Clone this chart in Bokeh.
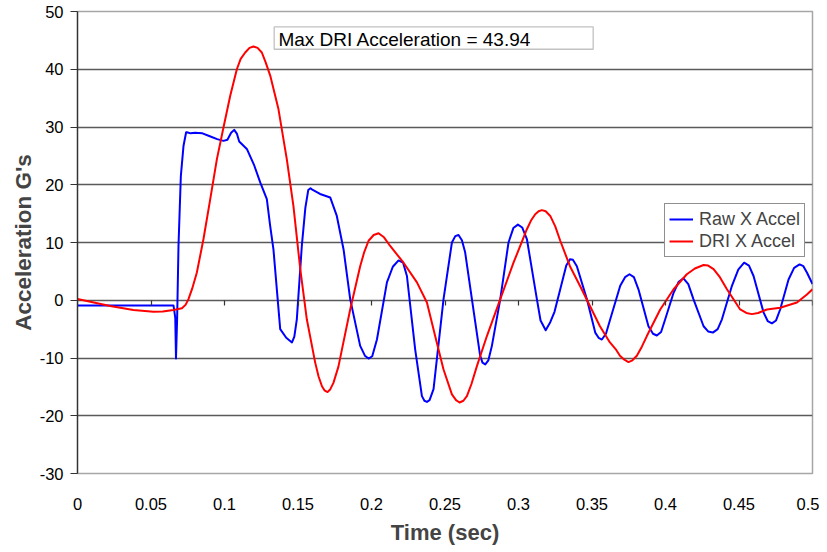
from bokeh.plotting import figure
from bokeh.models import (FixedTicker, NumeralTickFormatter, LinearAxis, Legend,
                          LegendItem, BoxAnnotation, Label)
from bokeh.embed import file_html
from bokeh.resources import INLINE

# ---- data ----
raw_t = [0.0, 0.0653, 0.0665, 0.067, 0.0678, 0.0687, 0.0703, 0.0721, 0.0739, 0.0744,
         0.077, 0.080, 0.085, 0.090, 0.095, 0.0993, 0.102, 0.1045, 0.1066, 0.1085,
         0.110, 0.1152, 0.120, 0.1243, 0.1288, 0.131, 0.1333, 0.1379, 0.142, 0.1459,
         0.1475, 0.1492, 0.1526, 0.155, 0.157, 0.1585, 0.1594, 0.165, 0.1719, 0.1764,
         0.181, 0.1855, 0.1923, 0.1955, 0.198, 0.2005, 0.2037, 0.2105, 0.2145, 0.2184,
         0.2215, 0.2241, 0.2297, 0.2343, 0.236, 0.2377, 0.2395, 0.2422, 0.249, 0.2547,
         0.257, 0.2592, 0.2615, 0.2637, 0.2683, 0.2739, 0.2755, 0.2774, 0.2795, 0.2819,
         0.2876, 0.2932, 0.2965, 0.2996, 0.3025, 0.3057, 0.3125, 0.315, 0.3185, 0.3216,
         0.3245, 0.3284, 0.3325, 0.335, 0.337, 0.3397, 0.3465, 0.3522, 0.3545, 0.3567,
         0.3595, 0.3624, 0.3692, 0.3725, 0.3755, 0.3785, 0.3816, 0.3884, 0.3915, 0.3941,
         0.397, 0.3998, 0.4055, 0.409, 0.4122, 0.4155, 0.419, 0.4259, 0.429, 0.4322,
         0.4355, 0.4384, 0.4452, 0.4495, 0.4535, 0.4568, 0.4599, 0.4667, 0.4695, 0.4724,
         0.4752, 0.478, 0.4837, 0.4875, 0.4912, 0.4938, 0.4962, 0.5]
raw_g = [-0.9, -0.9, -3.0, -10.1, -3.0, 9.4, 21.5, 26.7, 29.1, 29.1,
         28.9, 29.0, 28.9, 28.4, 27.9, 27.6, 27.8, 29.0, 29.5, 28.8,
         27.5, 26.2, 23.5, 20.4, 17.5, 13.0, 8.8, -5.0, -6.5, -7.3,
         -6.3, -3.3, 9.4, 16.0, 19.1, 19.4, 19.2, 18.4, 17.8, 14.6,
         8.8, 0.2, -7.9, -9.6, -10.1, -9.7, -6.8, 3.1, 5.8, 6.9,
         6.5, 4.2, -8.5, -16.6, -17.4, -17.6, -17.3, -15.4, 0.2, 10.0,
         11.1, 11.3, 10.4, 8.3, 0.2, -9.6, -10.8, -11.1, -10.4, -7.9,
         0.2, 10.0, 12.5, 13.1, 12.6, 10.6, 0.2, -3.5, -5.2, -3.8,
         -2.0, 1.9, 6.0, 7.1, 7.0, 5.9, 0.2, -5.6, -6.5, -6.8,
         -5.8, -3.3, 2.5, 4.0, 4.5, 4.0, 1.9, -4.5, -5.8, -6.1,
         -5.5, -3.3, 1.3, 3.2, 3.8, 2.8, 0.2, -4.5, -5.4, -5.6,
         -5.0, -3.3, 2.5, 5.3, 6.5, 6.0, 4.2, -2.1, -3.6, -4.0,
         -3.5, -1.6, 3.6, 5.6, 6.2, 5.9, 4.8, 2.8]

dri_t = [0.0, 0.0222, 0.038, 0.0517, 0.058, 0.0653, 0.071, 0.0735, 0.0755, 0.078,
         0.0812, 0.0857, 0.0903, 0.0948, 0.0993, 0.1039, 0.1084, 0.111, 0.1141, 0.117,
         0.1197, 0.1225, 0.1254, 0.128, 0.1311, 0.1367, 0.1424, 0.1469, 0.1515, 0.156,
         0.1617, 0.164, 0.1663, 0.168, 0.1701, 0.172, 0.1741, 0.1775, 0.1799, 0.1855,
         0.1923, 0.195, 0.198, 0.2015, 0.2048, 0.2085, 0.2127, 0.2218, 0.2309, 0.2377,
         0.2433, 0.249, 0.2547, 0.2575, 0.2599, 0.2625, 0.2649, 0.268, 0.2717, 0.2785,
         0.2876, 0.2966, 0.3057, 0.3085, 0.3114, 0.3137, 0.3159, 0.3185, 0.3216, 0.325,
         0.3284, 0.335, 0.3418, 0.3486, 0.3554, 0.3622, 0.3665, 0.369, 0.372, 0.3748,
         0.3775, 0.3805, 0.384, 0.3873, 0.3964, 0.4055, 0.4145, 0.420, 0.4259, 0.429,
         0.4327, 0.437, 0.4418, 0.4508, 0.455, 0.4588, 0.463, 0.469, 0.478, 0.4894,
         0.4962, 0.5]
dri_g = [0.2, -1.0, -1.7, -2.0, -1.95, -1.7, -1.4, -0.8, 0.2, 2.0,
         4.8, 10.6, 17.5, 24.4, 29.9, 35.4, 40.0, 41.8, 42.9, 43.7,
         43.94, 43.7, 42.9, 41.2, 38.9, 33.1, 24.4, 16.3, 5.5, -3.3,
         -10.8, -13.2, -14.9, -15.6, -15.9, -15.4, -14.3, -11.5, -8.5, -1.6,
         5.9, 8.3, 10.3, 11.3, 11.6, 10.9, 9.4, 6.5, 3.1, -0.4,
         -6.2, -12.0, -16.3, -17.3, -17.7, -17.4, -16.6, -14.5, -11.4, -6.2,
         0.2, 6.5, 12.3, 13.8, 14.9, 15.4, 15.6, 15.4, 14.6, 12.8,
         10.3, 5.9, 2.5, -1.0, -4.5, -7.3, -8.6, -9.6, -10.3, -10.7,
         -10.4, -9.6, -8.0, -6.2, -1.6, 1.9, 4.5, 5.5, 6.1, 6.0,
         5.4, 4.0, 1.9, -1.6, -2.2, -2.4, -2.2, -1.6, -1.3, -0.4,
         1.0, 1.9]

x_ticks = [0, 0.05, 0.1, 0.15, 0.2, 0.25, 0.3, 0.35, 0.4, 0.45, 0.5]
y_ticks = [-30, -20, -10, 0, 10, 20, 30, 40, 50]
grid_ticks = [-20, -10, 0, 10, 20, 30, 40]
series_names = ["Raw X Accel", "DRI X Accel"]

FONT = "Liberation Sans"

p = figure(frame_width=735, frame_height=462, x_range=(0, 0.5), y_range=(-30, 50),
           output_backend="svg", toolbar_location=None,
           min_border_left=77, min_border_top=11, min_border_right=7, min_border_bottom=10,
           background_fill_color="white", border_fill_color="white")
p.outline_line_color = "#a6a6a6"
p.outline_line_width = 1.5

r_raw = p.line(raw_t, raw_g, line_color="#0000ff", line_width=2, line_join="round")
r_dri = p.line(dri_t, dri_g, line_color="#ff0000", line_width=2, line_join="round")

# grid
p.xgrid.visible = False
p.ygrid.ticker = FixedTicker(ticks=grid_ticks)
p.ygrid.grid_line_color = "#5a5a5a"
p.ygrid.grid_line_width = 1.4
p.ygrid.level = "underlay"

# y axis
ya = p.yaxis[0]
ya.ticker = FixedTicker(ticks=y_ticks)
ya.formatter = NumeralTickFormatter(format="0")
ya.axis_label = "Acceleration G's"
ya.axis_label_text_font = FONT
ya.axis_label_text_font_style = "bold"
ya.axis_label_text_font_size = "22.5px"
ya.axis_label_standoff = 1
ya.major_label_text_font = FONT
ya.major_label_text_font_size = "16.5px"
ya.major_label_text_color = "black"
ya.major_label_standoff = 7
ya.major_tick_in = 0
ya.major_tick_out = 7
ya.minor_tick_line_color = None
ya.axis_line_color = "#333333"
ya.axis_line_width = 1.3
ya.major_tick_line_color = "#333333"

# x axis (labels at bottom)
xa = p.xaxis[0]
xa.ticker = FixedTicker(ticks=x_ticks)
xa.formatter = NumeralTickFormatter(format="0.[00]")
xa.axis_label = "Time (sec)"
xa.axis_label_text_font = FONT
xa.axis_label_text_font_style = "bold"
xa.axis_label_text_font_size = "22px"
xa.axis_label_standoff = 7
xa.major_label_text_font = FONT
xa.major_label_text_font_size = "16.5px"
xa.major_label_text_color = "black"
xa.major_label_standoff = 18
xa.major_tick_line_color = None
xa.minor_tick_line_color = None
xa.axis_line_color = None

# tick marks hanging below the zero line (placed next to the frame)
za = LinearAxis(fixed_location=0, ticker=FixedTicker(ticks=x_ticks),
                major_tick_in=0, major_tick_out=5, major_tick_line_color="#333333",
                major_tick_line_width=1.2,
                minor_tick_line_color=None, axis_line_color=None,
                major_label_standoff=0,
                major_label_text_font_size="0px", major_label_text_alpha=0)
p.add_layout(za, "below")
p.below = [za, xa]

# annotation box
p.add_layout(BoxAnnotation(left=0.1338, right=0.3508, bottom=43.46, top=47.33,
                           fill_color="white", fill_alpha=1.0,
                           line_color="#333333", line_width=1.3, level="overlay"))
p.add_layout(Label(x=0.1367, y=45.2, text=f"Max DRI Acceleration = {max(dri_g):.2f}",
                   text_font=FONT, text_font_size="19px", text_color="black",
                   text_baseline="middle", level="overlay"))

legend = Legend(items=[LegendItem(label=series_names[0], renderers=[r_raw]),
                       LegendItem(label=series_names[1], renderers=[r_dri])],
                location=(587, 216), orientation="vertical",
                label_text_font=FONT, label_text_font_size="18px",
                label_standoff=6, glyph_width=24, glyph_height=22, label_height=22,
                spacing=0, padding=4, margin=0,
                border_line_color="#222222", border_line_width=1.3,
                background_fill_color="white", background_fill_alpha=1.0)
p.add_layout(legend, "center")

open("out.html", "w").write(file_html(p, INLINE))
